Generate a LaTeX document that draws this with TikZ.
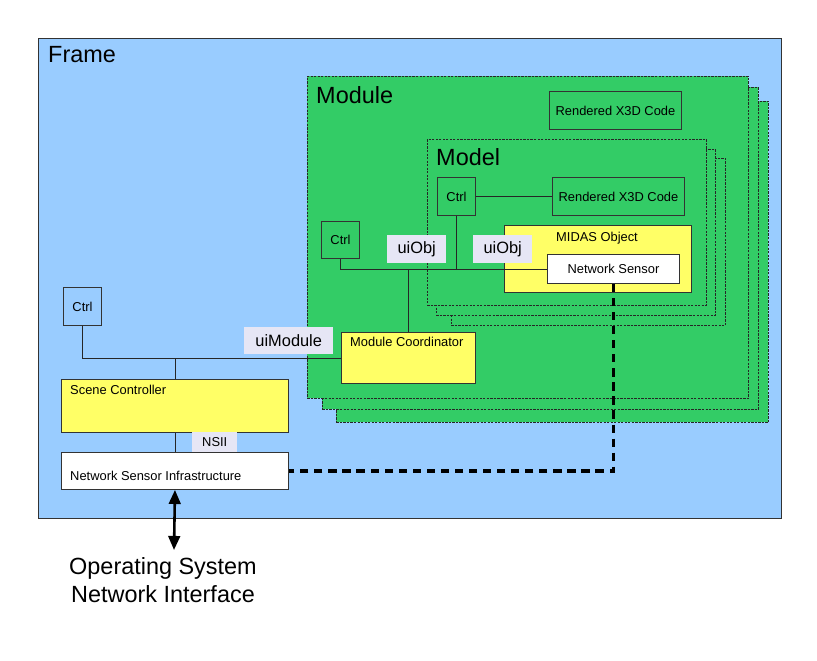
\documentclass[tikz,border=0pt]{standalone}
\usepackage{fontspec}
\setmainfont{Liberation Sans}
\usetikzlibrary{arrows.meta}

\definecolor{framebg}{HTML}{99CCFF}
\definecolor{modgreen}{HTML}{33CC66}
\definecolor{objyellow}{HTML}{FFFF66}
\definecolor{taglav}{HTML}{E6E6F5}

\tikzset{
    wd/.style={minimum width=#1*0.03cm},
    ht/.style={minimum height=#1*0.03cm},
    box/.style={draw=black!80, line width=0.8pt, anchor=north west, inner sep=0pt,
        font=\fontsize{11}{13}\selectfont},
    stack/.style={draw=black!85, line width=0.7pt, dash pattern=on 2pt off 1pt,
        fill=modgreen, anchor=north west, inner sep=0pt},
    tag/.style={fill=taglav, anchor=north west, inner sep=0pt,
        font=\fontsize{14}{16}\selectfont},
    title/.style={anchor=west, inner sep=0pt, font=\fontsize{20}{24}\selectfont},
    small/.style={anchor=west, inner sep=0pt, font=\fontsize{11}{13}\selectfont},
    wire/.style={draw=black!85, line width=0.8pt}
}

\begin{document}
\begin{tikzpicture}[x=0.03cm, y=-0.03cm]
    \useasboundingbox (0,0) rectangle (817,660);

    % frame
    \node[box, fill=framebg, wd=743, ht=480] (frame) at (38,38) {};
    \node[title] (frametitle) at (48,55) {Frame};

    % module stack
    \node[stack, wd=432, ht=321] (mod3) at (336,101) {};
    \node[stack, wd=436, ht=322] (mod2) at (322,87) {};
    \node[stack, wd=441, ht=322] (mod1) at (307,76) {};
    \node[title] (modtitle) at (316,95) {Module};
    \node[box, wd=132, ht=38] (modx3d) at (549,91) {Rendered X3D Code};

    % model stack
    \node[stack, wd=274, ht=167] (mdl3) at (451,158) {};
    \node[stack, wd=279, ht=166] (mdl2) at (436,149) {};
    \node[stack, wd=279, ht=166] (mdl1) at (427,139) {};
    \node[title] (mdltitle) at (436,157) {Model};
    \node[box, wd=38, ht=38] (mdlctrl) at (437,177) {Ctrl};
    \node[box, wd=132, ht=38] (mdlx3d) at (552,177) {Rendered X3D Code};
    \node[box, fill=objyellow, wd=187, ht=67] (midas) at (504,225) {};
    \node[small, anchor=center] (midastext) at (597,238) {MIDAS Object};
    \node[box, fill=white, wd=132, ht=29] (nsensor) at (547,254) {Network Sensor};

    % module controller and coordinator
    \node[box, wd=38, ht=37] (modctrl) at (321,221) {Ctrl};
    \node[box, fill=objyellow, wd=134, ht=51] (modcoord) at (341,332) {};
    \node[small] (modcoordtext) at (350,342) {Module Coordinator};

    % scene side
    \node[box, wd=38, ht=38] (ctrl) at (63,287) {Ctrl};
    \node[box, fill=objyellow, wd=227, ht=53] (scene) at (61,379) {};
    \node[small] (scenetext) at (70,390) {Scene Controller};
    \node[box, fill=white, wd=227, ht=37] (nsi) at (61,452) {};
    \node[small] (nsitext) at (70,476) {Network Sensor Infrastructure};

    % interface tags
    \node[tag, wd=59, ht=28] (uiobja) at (387,235) {uiObj};
    \node[tag, wd=59, ht=28] (uiobjb) at (473,235) {uiObj};
    \node[tag, wd=89, ht=27] (uimodule) at (244,327) {uiModule};
    \node[tag, wd=45, ht=20, font=\fontsize{11}{13}\selectfont] (nsii) at (192,432) {NSII};

    % wires
    \draw[wire] (mdlctrl.east) -- (mdlx3d.west);
    \draw[wire] (modctrl.south) |- (nsensor.west);
    \draw[wire] (mdlctrl.south) -- (mdlctrl.south |- nsensor.west);
    \draw[wire] (modcoord.north) -- (modcoord.north |- nsensor.west);
    \draw[wire] (ctrl.south) |- (modcoord.west);
    \draw[wire] (scene.north) -- (scene.north |- modcoord.west);
    \draw[wire] (scene.south) -- (nsi.north);
    \draw[line width=3pt, dash pattern=on 7pt off 5pt] (nsensor.south) |- (nsi.east);

    % operating system link
    \coordinate (osif) at (174,550);
    \draw[line width=2.2pt, {Triangle[length=12pt,width=10pt]}-{Triangle[length=12pt,width=10pt]}]
        (nsi.south) -- (osif);
    \node[font=\fontsize{20}{24}\selectfont, align=center, anchor=north, inner sep=0pt] (ostext)
        at (163,557) {Operating System\\Network Interface};
\end{tikzpicture}
\end{document}
